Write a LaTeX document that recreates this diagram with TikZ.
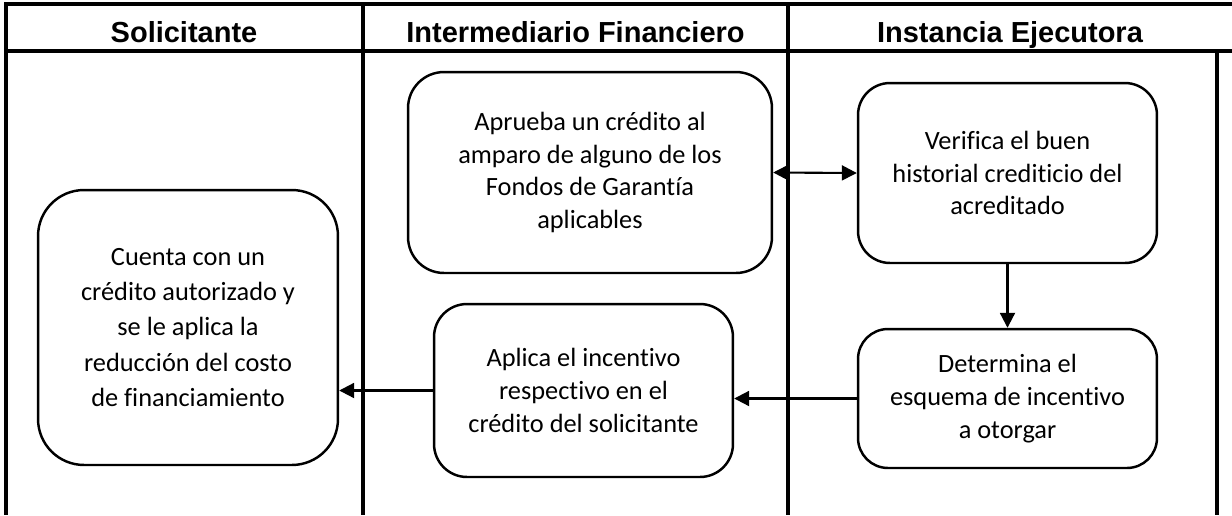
\documentclass[tikz,border=0pt]{standalone}
\usepackage{fontspec}
\setmainfont{Carlito}[RawFeature=-liga]
\newfontfamily\hdrfont{Liberation Sans}
\usetikzlibrary{arrows.meta}
\begin{document}
\begin{tikzpicture}[x=0.02cm,y=-0.02cm,
  frame/.style={line width=2.1pt},
  proc/.style={draw,line width=1.4pt,rectangle,align=center,inner sep=0pt,
    font=\fontsize{15}{18.6}\selectfont},
  hdr/.style={font=\hdrfont\bfseries\fontsize{16.5}{20}\selectfont,anchor=base,inner sep=0pt},
  flow/.style={line width=1.2pt,-{Triangle[length=8.5pt,width=8.5pt]}},
  dflow/.style={line width=1.2pt,{Triangle[length=8.5pt,width=8.5pt]}-{Triangle[length=8.5pt,width=8.5pt]}}
]
\useasboundingbox (0,0) rectangle (1232,515);
\fill[white] (0,0) rectangle (1232,515);
% swimlane frame
\draw[frame] (1232,4) -- (6,4) -- (6,515);
\draw[frame] (6,51) -- (1232,51);
\draw[frame] (363,4) -- (363,515);
\draw[frame] (788,4) -- (788,515);
\draw[frame] (1217,51) -- (1217,515);
% headers
\node[hdr] (h1) at (184,42) {Solicitante};
\node[hdr] (h2) at (575.5,42) {Intermediario Financiero};
\node[hdr] (h3) at (1010,42) {Instancia Ejecutora};
% process boxes
\node[proc,minimum width=7.28cm,minimum height=4.02cm,rounded corners=0.72cm] (A) at (590,172.5)
  {Aprueba un crédito al\\amparo de alguno de los\\Fondos de Garantía\\aplicables};
\node[proc,minimum width=5.98cm,minimum height=3.6cm,rounded corners=0.64cm] (B) at (1007.5,173)
  {Verifica el buen\\historial crediticio del\\acreditado};
\node[proc,minimum width=6.0cm,minimum height=5.5cm,rounded corners=0.92cm,
  font=\fontsize{15}{20}\selectfont] (C) at (188,327.5)
  {Cuenta con un\\crédito autorizado y\\se le aplica la\\reducción del costo\\de financiamiento};
\node[proc,minimum width=5.98cm,minimum height=3.46cm,rounded corners=0.66cm] (D) at (583.5,390.5)
  {Aplica el incentivo\\respectivo en el\\crédito del solicitante};
\node[proc,minimum width=5.98cm,minimum height=2.78cm,rounded corners=0.6cm] (E) at (1007.5,398.5)
  {Determina el\\esquema de incentivo\\a otorgar};
% connectors
\draw[dflow] (A.east) -- (B.west);
\draw[flow] (B.south) -- (E.north);
\draw[flow] (E.west) -- (E.west -| D.east);
\draw[flow] (D.west) -- (D.west -| C.east);
\end{tikzpicture}
\end{document}
